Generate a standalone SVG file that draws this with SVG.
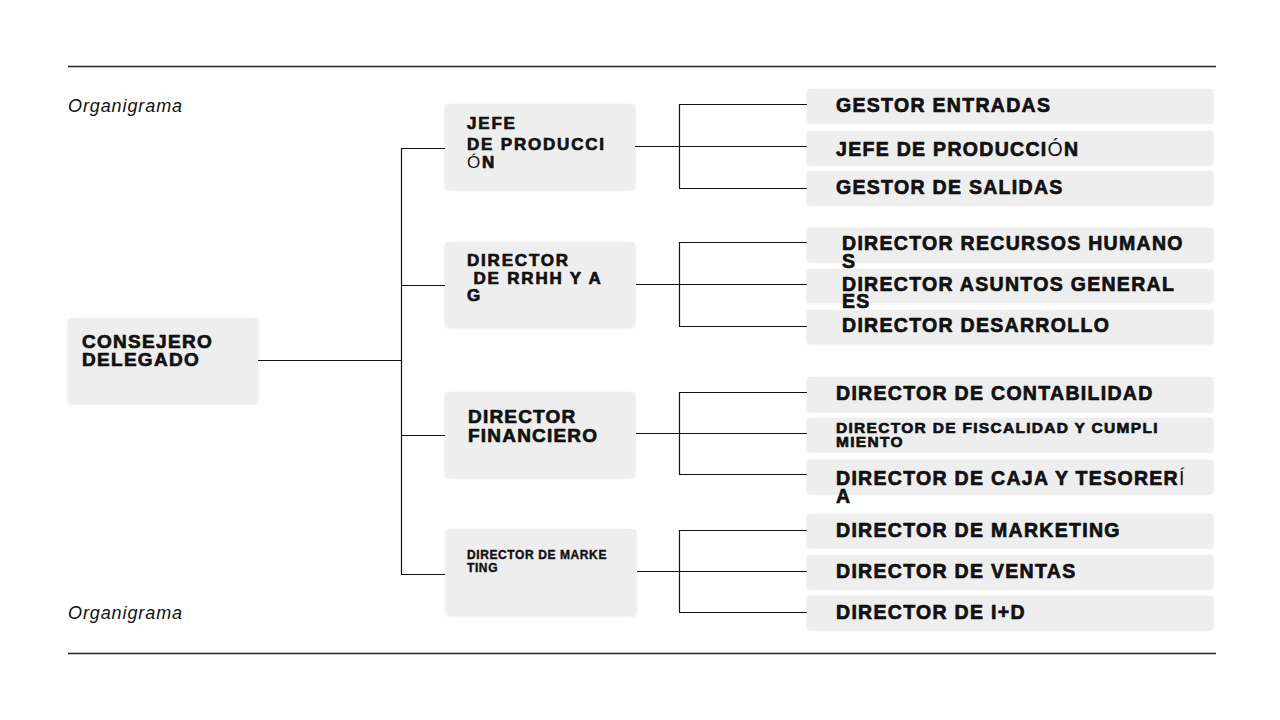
<svg xmlns="http://www.w3.org/2000/svg" width="1280" height="720" viewBox="0 0 1280 720">
<defs>
<filter id="sh" x="-5%" y="-20%" width="110%" height="140%">
<feDropShadow dx="0" dy="1" stdDeviation="1.5" flood-color="#000" flood-opacity="0.12"/>
</filter>
<style>
.box{fill:#eeeeee;filter:url(#sh)}
.t{font-family:"Liberation Sans",Arial,sans-serif;font-weight:bold;fill:#111;stroke:#111;stroke-width:0.7px;stroke-linejoin:round}
.t3{font-size:19.5px;letter-spacing:1.3px}
.t2{font-size:17px;letter-spacing:1.8px}
.n{font-weight:normal;stroke:none}
.ln{stroke:#111;stroke-width:1.2;fill:none}
.rule{stroke:#222;stroke-width:1.3}
.title{font-family:"Liberation Sans",Arial,sans-serif;font-style:italic;font-size:18px;letter-spacing:0.9px;fill:#111}
</style>
</defs>
<rect width="1280" height="720" fill="#fff"/>
<line class="rule" x1="68" y1="66.5" x2="1216" y2="66.5"/>
<line class="rule" x1="68" y1="653.5" x2="1216" y2="653.5"/>
<text class="title" x="68" y="112">Organigrama</text>
<text class="title" x="68" y="619">Organigrama</text>

<g id="connectors">
<path class="ln" d="M258 360.5H401.5M401.5 148V574.5M401 148.5H445M401 285.5H445M401 435.5H445M401 574.5H445"/>
<path class="ln" d="M635 146.5H679M679.5 104V189M679 104.5H807M679 146.5H807M679 188.5H807"/>
<path class="ln" d="M636 284.5H679M679.5 242V327M679 242.5H807M679 284.5H807M679 326.5H807"/>
<path class="ln" d="M636 433.5H679M679.5 392V475M679 392.5H807M679 433.5H807M679 474.5H807"/>
<path class="ln" d="M637 571.5H679M679.5 530V613M679 530.5H807M679 571.5H807M679 612.5H807"/>
</g>

<g id="consejero">
<rect class="box" x="68" y="318" width="190" height="85" rx="4"/>
<text class="t" x="82" y="348" style="font-size:19px;letter-spacing:1.3px">CONSEJERO</text>
<text class="t" x="82" y="366" style="font-size:19px;letter-spacing:1.3px">DELEGADO</text>
</g>

<g id="jefe-produccion">
<rect class="box" x="445" y="104" width="190" height="85" rx="4"/>
<text class="t t2" x="467" y="129">JEFE</text>
<text class="t t2" x="467" y="150">DE PRODUCCI</text>
<text class="t t2" x="467" y="168"><tspan class="n">Ó</tspan>N</text>
</g>

<g id="director-rrhh">
<rect class="box" x="445" y="242" width="190" height="85" rx="4"/>
<text class="t t2" x="467" y="266">DIRECTOR</text>
<text class="t t2" x="467" y="284" xml:space="preserve"> DE RRHH Y A</text>
<text class="t t2" x="467" y="301">G</text>
</g>

<g id="director-financiero">
<rect class="box" x="445" y="392" width="190" height="85" rx="4"/>
<text class="t" x="468" y="423" style="font-size:19px;letter-spacing:1.2px">DIRECTOR</text>
<text class="t" x="468" y="442" style="font-size:19px;letter-spacing:1.2px">FINANCIERO</text>
</g>

<g id="director-marketing-2">
<rect class="box" x="446" y="529" width="190" height="86" rx="4"/>
<text class="t" x="467" y="559" style="font-size:12px;letter-spacing:0.6px;stroke-width:0.4px">DIRECTOR DE MARKE</text>
<text class="t" x="467" y="572" style="font-size:12px;letter-spacing:0.6px;stroke-width:0.4px">TING</text>
</g>

<g id="gestor-entradas">
<rect class="box" x="807" y="89" width="406" height="33" rx="2"/>
<text class="t t3" x="836" y="112">GESTOR ENTRADAS</text>
</g>
<g id="jefe-produccion-3">
<rect class="box" x="807" y="131" width="406" height="33" rx="2"/>
<text class="t t3" x="836" y="156">JEFE DE PRODUCCI<tspan class="n">Ó</tspan>N</text>
</g>
<g id="gestor-salidas">
<rect class="box" x="807" y="171" width="406" height="33" rx="2"/>
<text class="t t3" x="836" y="194">GESTOR DE SALIDAS</text>
</g>

<g id="director-rrhh-3">
<rect class="box" x="807" y="228" width="406" height="33" rx="2"/>
<text class="t t3" x="842" y="250">DIRECTOR RECURSOS HUMANO</text>
<text class="t t3" x="842" y="268">S</text>
</g>
<g id="director-asuntos">
<rect class="box" x="807" y="269" width="406" height="33" rx="2"/>
<text class="t t3" x="842" y="291">DIRECTOR ASUNTOS GENERAL</text>
<text class="t t3" x="842" y="308">ES</text>
</g>
<g id="director-desarrollo">
<rect class="box" x="807" y="310" width="406" height="33" rx="2"/>
<text class="t t3" x="842" y="332">DIRECTOR DESARROLLO</text>
</g>

<g id="director-contabilidad">
<rect class="box" x="807" y="377" width="406" height="34" rx="2"/>
<text class="t t3" x="836" y="400">DIRECTOR DE CONTABILIDAD</text>
</g>
<g id="director-fiscalidad">
<rect class="box" x="807" y="418" width="406" height="33" rx="2"/>
<text class="t" x="836" y="433" style="font-size:15.5px;letter-spacing:1.3px">DIRECTOR DE FISCALIDAD Y CUMPLI</text>
<text class="t" x="836" y="447" style="font-size:15.5px;letter-spacing:1.3px">MIENTO</text>
</g>
<g id="director-caja">
<rect class="box" x="807" y="460" width="406" height="33" rx="2"/>
<text class="t t3" x="836" y="485">DIRECTOR DE CAJA Y TESORER<tspan class="n">Í</tspan></text>
<text class="t t3" x="836" y="503">A</text>
</g>

<g id="director-marketing">
<rect class="box" x="807" y="514" width="406" height="33" rx="2"/>
<text class="t t3" x="836" y="537">DIRECTOR DE MARKETING</text>
</g>
<g id="director-ventas">
<rect class="box" x="807" y="555" width="406" height="33" rx="2"/>
<text class="t t3" x="836" y="578">DIRECTOR DE VENTAS</text>
</g>
<g id="director-id">
<rect class="box" x="807" y="596" width="406" height="33" rx="2"/>
<text class="t t3" x="836" y="619">DIRECTOR DE I+D</text>
</g>
</svg>
